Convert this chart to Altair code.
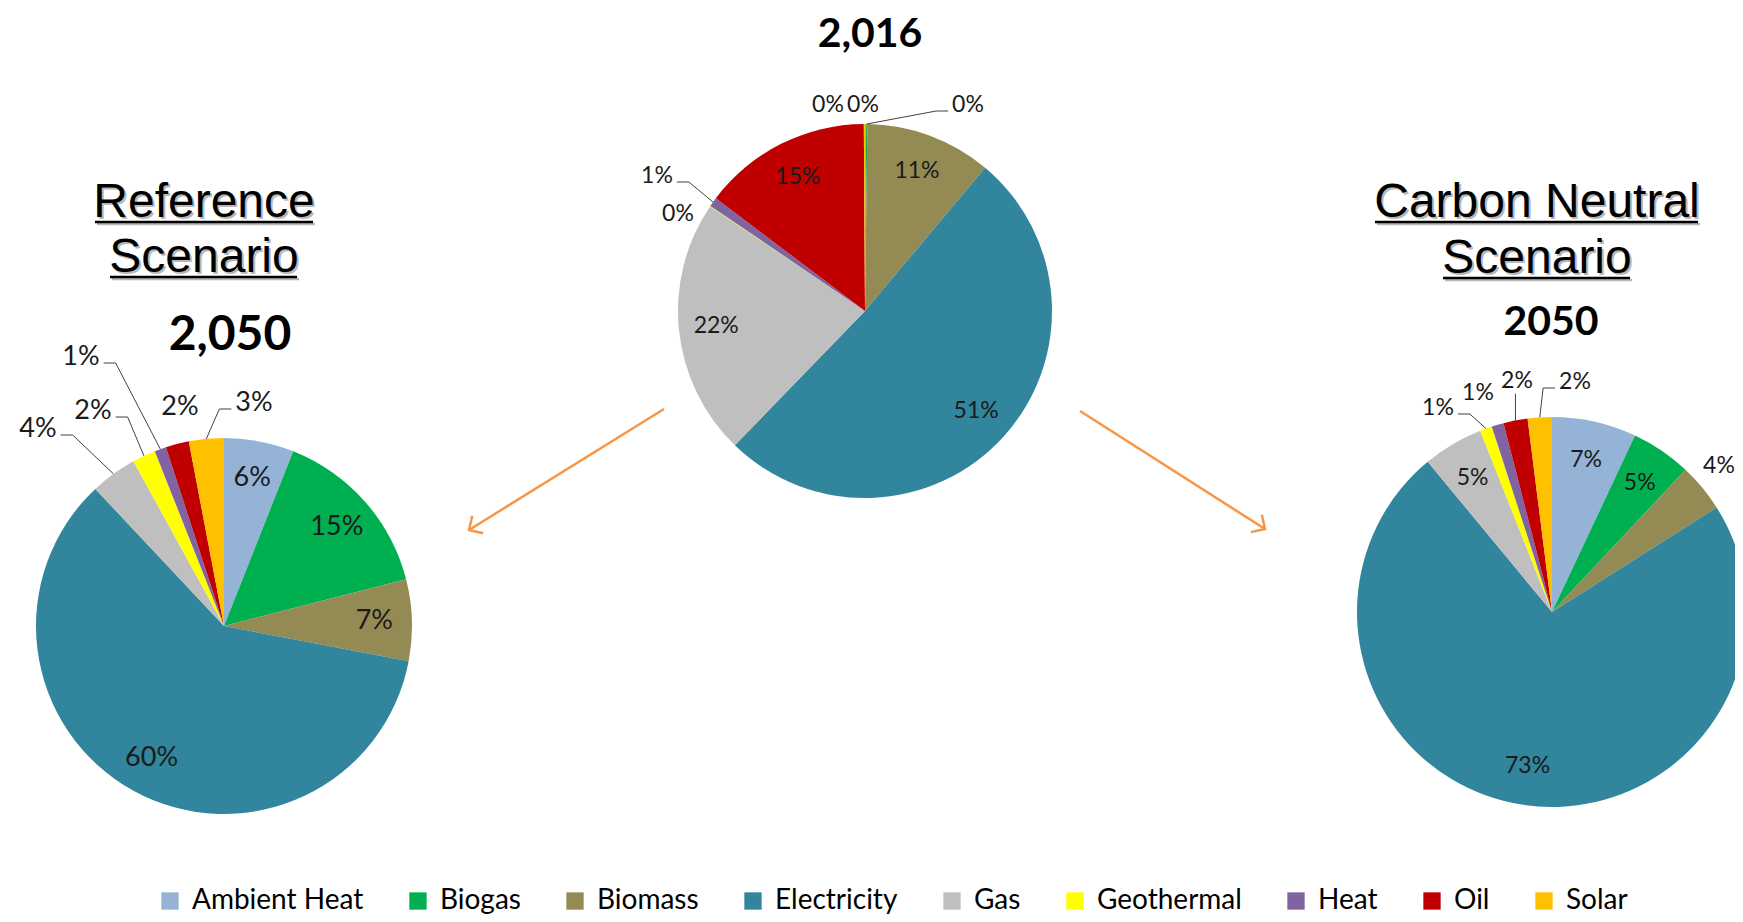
import math
import altair as alt
import pandas as pd

# ------------------------------------------------------------------ data
sources = ["Ambient Heat", "Biogas", "Biomass", "Electricity", "Gas",
           "Geothermal", "Heat", "Oil", "Solar"]
share_2016 = [0.1, 0.1, 10.9, 51.15, 22.2, 0.05, 0.8, 14.6, 0.1]
share_reference_2050 = [6, 15, 7, 60, 4, 2, 1, 2, 3]
share_carbon_neutral_2050 = [7, 5, 4, 73, 5, 1, 1, 2, 2]

scenario_titles = ["Reference", "Scenario", "Carbon Neutral", "Scenario"]
year_titles = ["2,016", "2,050", "2050"]

# ------------------------------------------------------------------ styles / layout
colors = ["#95B3D7", "#00B050", "#948A54", "#31859C", "#BFBFBF",
          "#FFFF00", "#8064A2", "#C00000", "#FFC000"]
OFF = 8  # page margin
pie_values = {"p2016": share_2016, "ref2050": share_reference_2050,
              "cn2050": share_carbon_neutral_2050}
pie_layout = {
    "p2016": dict(cx=865, cy=311, r=187, fs=23),
    "ref2050": dict(cx=224, cy=626, r=188, fs=27),
    "cn2050": dict(cx=1552, cy=612, r=195, fs=23),
}
# outside labels: offset of label centre from pie centre, leader style
outside_labels = {
    ("ref2050", "Gas"): (-186, -197, "h"),
    ("ref2050", "Geothermal"): (-131, -215, "h"),
    ("ref2050", "Heat"): (-143, -269, "h"),
    ("ref2050", "Oil"): (-44, -219, "n"),
    ("ref2050", "Solar"): (30, -223, "h"),
    ("p2016", "Ambient Heat"): (-2, -206, "n"),
    ("p2016", "Biogas"): (103, -206, "h"),
    ("p2016", "Geothermal"): (-187, -97, "n"),
    ("p2016", "Heat"): (-208, -135, "h"),
    ("p2016", "Solar"): (-37, -206, "n"),
    ("cn2050", "Biomass"): (167, -146, "n"),
    ("cn2050", "Geothermal"): (-114, -204, "h"),
    ("cn2050", "Heat"): (-74, -219, "n"),
    ("cn2050", "Oil"): (-35, -231, "v"),
    ("cn2050", "Solar"): (23, -230, "h"),
}
scenario_pos = [(204, 217), (204, 272), (1537, 217), (1537, 273)]
underline_pos = [(95, 313, 222), (110, 297, 277), (1375, 1698, 222), (1443, 1630, 278)]
year_pos = [(870, 47, 41), (230, 350, 48), (1551, 335, 41)]
arrow_pos = [(664, 409, 469, 530), (1080, 411, 1265, 529)]

rows = []
for pie, vals in pie_values.items():
    lay = pie_layout[pie]
    for i, (src, v) in enumerate(zip(sources, vals)):
        o = outside_labels.get((pie, src))
        rows.append(dict(
            pie=pie, source=src, order=i, value=v,
            cx=lay["cx"] - OFF, cy=lay["cy"] - OFF, r=lay["r"], fs=lay["fs"],
            outside=1 if o else 0,
            ldx=o[0] if o else 0, ldy=o[1] if o else 0,
            style=o[2] if o else "n",
        ))
df = pd.DataFrame(rows)

base = (
    alt.Chart(df)
    .transform_window(cum="sum(value)", groupby=["pie"], sort=[alt.SortField("order")])
    .transform_calculate(start="datum.cum - datum.value")
    .transform_calculate(ang="2*PI*(datum.cum - datum.value/2)/100")
    .transform_calculate(ex="datum.cx + datum.r*sin(datum.ang)")
    .transform_calculate(ey="datum.cy - datum.r*cos(datum.ang)")
    .transform_calculate(ix="datum.cx + 0.8*datum.r*sin(datum.ang)")
    .transform_calculate(iy="datum.cy - 0.8*datum.r*cos(datum.ang)")
    .transform_calculate(lx="datum.cx + datum.ldx")
    .transform_calculate(ly="datum.cy + datum.ldy")
    .transform_calculate(side="datum.lx < datum.ex ? -1 : 1")
    .transform_calculate(hx1="datum.lx - datum.side*(0.69*datum.fs + 4)")
    .transform_calculate(hx2="datum.hx1 - datum.side*12")
    .transform_calculate(hy="datum.ly + 6")
    .transform_calculate(px="datum.style == 'v' ? datum.ex : datum.hx2")
    .transform_calculate(py="datum.style == 'v' ? datum.ly + 0.55*datum.fs : datum.hy")
    .transform_calculate(label="format(datum.value, '.0f') + '%'")
)

arcs = base.mark_arc().encode(
    x=alt.X("cx:Q", scale=None, axis=None),
    y=alt.Y("cy:Q", scale=None, axis=None),
    theta=alt.Theta("start:Q", scale=alt.Scale(domain=[0, 100])),
    theta2="cum:Q",
    radius=alt.Radius("r:Q", scale=None),
    color=alt.Color(
        "source:N",
        scale=alt.Scale(domain=sources, range=colors),
        legend=alt.Legend(
            orient="none", legendX=148, legendY=879, direction="horizontal",
            title=None, symbolType="square", symbolSize=300, symbolStrokeWidth=0,
            labelFont="Lato", labelFontSize=28, labelColor="black",
            labelOffset=8, columnPadding=40, labelLimit=0,
        ),
    ),
)

inside_text = base.transform_filter("datum.outside == 0").mark_text(
    font="Lato", color="#1a1a1a", align="center", baseline="middle"
).encode(
    x=alt.X("ix:Q", scale=None, axis=None),
    y=alt.Y("iy:Q", scale=None, axis=None),
    text="label:N",
    size=alt.Size("fs:Q", scale=None),
)

outside_text = base.transform_filter("datum.outside == 1").mark_text(
    font="Lato", color="#1a1a1a", align="center", baseline="middle"
).encode(
    x=alt.X("lx:Q", scale=None, axis=None),
    y=alt.Y("ly:Q", scale=None, axis=None),
    text="label:N",
    size=alt.Size("fs:Q", scale=None),
)

leader1 = base.transform_filter("datum.outside == 1 && datum.style != 'n'").mark_rule(
    color="#404040", strokeWidth=1
).encode(
    x=alt.X("ex:Q", scale=None, axis=None),
    y=alt.Y("ey:Q", scale=None, axis=None),
    x2="px:Q", y2="py:Q",
)
leader2 = base.transform_filter("datum.outside == 1 && datum.style == 'h'").mark_rule(
    color="#404040", strokeWidth=1
).encode(
    x=alt.X("hx2:Q", scale=None, axis=None),
    y=alt.Y("hy:Q", scale=None, axis=None),
    x2="hx1:Q",
)

# titles
sc_df = pd.DataFrame({
    "text": scenario_titles,
    "x": [p[0] - OFF for p in scenario_pos],
    "y": [p[1] - OFF for p in scenario_pos],
})
sc_shadow = alt.Chart(sc_df).mark_text(
    font="Liberation Sans", fontSize=48, color="#b8b8b8", align="center",
    baseline="alphabetic", dx=2, dy=2,
).encode(x=alt.X("x:Q", scale=None, axis=None), y=alt.Y("y:Q", scale=None, axis=None), text="text:N")
sc_text = alt.Chart(sc_df).mark_text(
    font="Liberation Sans", fontSize=48, color="black", align="center",
    baseline="alphabetic",
).encode(x=alt.X("x:Q", scale=None, axis=None), y=alt.Y("y:Q", scale=None, axis=None), text="text:N")

ul_df = pd.DataFrame({
    "x": [u[0] - OFF for u in underline_pos],
    "x2": [u[1] - OFF for u in underline_pos],
    "y": [u[2] - OFF for u in underline_pos],
})
ul_df["ys"] = ul_df["y"] + 2
ul_df["xs"] = ul_df["x"] + 2
ul_df["x2s"] = ul_df["x2"] + 2
ul_shadow = alt.Chart(ul_df).mark_rule(color="#b8b8b8", strokeWidth=2.5).encode(
    x=alt.X("xs:Q", scale=None, axis=None), x2="x2s:Q", y=alt.Y("ys:Q", scale=None, axis=None))
ul = alt.Chart(ul_df).mark_rule(color="black", strokeWidth=2.5).encode(
    x=alt.X("x:Q", scale=None, axis=None), x2="x2:Q", y=alt.Y("y:Q", scale=None, axis=None))

yr_df = pd.DataFrame({
    "text": year_titles,
    "x": [p[0] - OFF for p in year_pos],
    "y": [p[1] - OFF for p in year_pos],
    "fs": [p[2] for p in year_pos],
})
yr_text = alt.Chart(yr_df).mark_text(
    font="Lato", fontWeight="bold", color="black", align="center", baseline="alphabetic"
).encode(
    x=alt.X("x:Q", scale=None, axis=None), y=alt.Y("y:Q", scale=None, axis=None),
    text="text:N", size=alt.Size("fs:Q", scale=None),
)

# arrows
ar_df = pd.DataFrame({
    "x": [a[0] - OFF for a in arrow_pos],
    "y": [a[1] - OFF for a in arrow_pos],
    "x2": [a[2] - OFF for a in arrow_pos],
    "y2": [a[3] - OFF for a in arrow_pos],
    "ang": [math.degrees(math.atan2(a[3] - a[1], a[2] - a[0])) for a in arrow_pos],
})
ORANGE = "#F79646"
arrow_shaft = alt.Chart(ar_df).mark_rule(color=ORANGE, strokeWidth=2.5).encode(
    x=alt.X("x:Q", scale=None, axis=None), y=alt.Y("y:Q", scale=None, axis=None),
    x2="x2:Q", y2="y2:Q")
arrow_head = alt.Chart(ar_df).mark_point(
    shape="M-1,-1L0,0L-1,1", filled=False, color=ORANGE, strokeWidth=2.5, size=420, opacity=1
).encode(
    x=alt.X("x2:Q", scale=None, axis=None), y=alt.Y("y2:Q", scale=None, axis=None),
    angle=alt.Angle("ang:Q", scale=None))

chart = alt.layer(
    arcs, leader1, leader2, inside_text, outside_text,
    sc_shadow, sc_text, ul_shadow, ul, yr_text, arrow_shaft, arrow_head,
).properties(
    width=1727, height=906, autosize=alt.AutoSizeParams(type="none"), padding=0,
).configure_view(stroke="transparent")

chart.save("out.html", embed_options={"renderer": "svg", "actions": False})
